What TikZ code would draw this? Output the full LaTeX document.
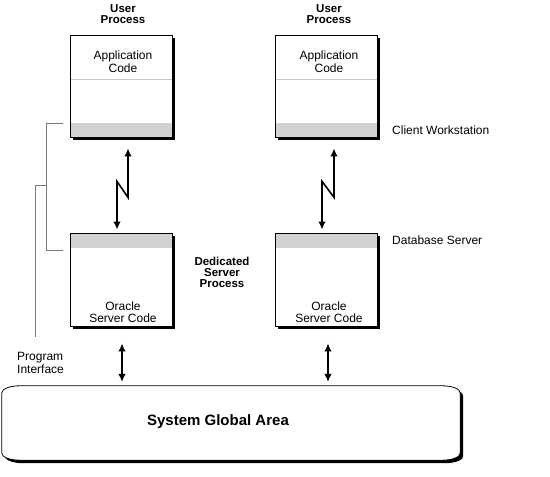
\documentclass[tikz,border=0pt]{standalone}
\usepackage{fontspec}
\setmainfont{Liberation Sans}
\usetikzlibrary{arrows.meta}
\definecolor{BandGray}{HTML}{D2D2D2}
\definecolor{RuleGray}{HTML}{C8C8C8}
\definecolor{BraceGray}{HTML}{7A7A7A}

\begin{document}
\begin{tikzpicture}[x=1pt,y=1pt,
   shade3/.style={preaction={draw=none, fill=black, transform canvas={shift={(3pt,-3pt)}}}},
   procbox/.style={draw, line width=0.8pt, fill=white, minimum width=102pt, shade3},
   clientbox/.style={procbox, minimum height=102pt,
     path picture={\fill[BandGray] (path picture bounding box.south west) rectangle ([yshift=14pt]path picture bounding box.south east);
       \draw[RuleGray, line width=0.6pt] ([yshift=-44pt]path picture bounding box.north west) -- ([yshift=-44pt]path picture bounding box.north east);}},
   serverbox/.style={procbox, minimum height=93pt,
     path picture={\fill[BandGray] (path picture bounding box.north west) rectangle ([yshift=-15pt]path picture bounding box.north east);}},
   link/.style={line width=1.6pt, {Latex[length=8pt,width=7.5pt]}-{Latex[length=8pt,width=7.5pt]}},
   brace/.style={BraceGray, line width=0.7pt},
   txt/.style={font=\fontsize{12}{12.5}\selectfont, align=center, inner sep=0pt},
   bold/.style={txt, font=\fontsize{11.5}{11}\selectfont\bfseries}]
   \useasboundingbox (0,0) rectangle (550,477);

   % process boxes
   \node[clientbox] (app1) at (121,391) {};
   \node[clientbox] (app2) at (326,391) {};
   \node[serverbox] (srv1) at (121,197.5) {};
   \node[serverbox] (srv2) at (326,197.5) {};

   \node[bold] (user1) at ([xshift=2pt,yshift=20pt]app1.north) {User\\Process};
   \node[bold] (user2) at ([xshift=3pt,yshift=20pt]app2.north) {User\\Process};
   \node[txt] (code1) at ([xshift=2pt,yshift=-27pt]app1.north) {Application\\Code};
   \node[txt] (code2) at ([xshift=3pt,yshift=-27pt]app2.north) {Application\\Code};
   \node[txt] (ora1) at ([xshift=2pt,yshift=14pt]srv1.south) {Oracle\\Server Code};
   \node[txt] (ora2) at ([xshift=3pt,yshift=14pt]srv2.south) {Oracle\\Server Code};

   % network links
   \draw[link] ([shift={(7pt,-11pt)}]app1.south) -- ++(0,-49) -- ++(-11,16) -- ([shift={(-4pt,3pt)}]srv1.north);
   \draw[link] ([shift={(8pt,-11pt)}]app2.south) -- ++(0,-49) -- ++(-12,16) -- ([shift={(-4pt,3pt)}]srv2.north);

   % system global area
   \node[minimum width=458pt, minimum height=74pt, inner sep=0pt] (sga) at (231,54) {};
   \draw[line width=0.8pt, fill=white, shade3]
      ([yshift=-7pt]sga.north west) arc[start angle=180, end angle=90, x radius=18pt, y radius=7pt]
      -- ([xshift=-18pt]sga.north east) arc[start angle=90, end angle=0, x radius=18pt, y radius=7pt]
      -- ([yshift=7pt]sga.south east) arc[start angle=0, end angle=-90, x radius=18pt, y radius=7pt]
      -- ([xshift=18pt]sga.south west) arc[start angle=270, end angle=180, x radius=18pt, y radius=7pt]
      -- cycle;
   \node[font=\fontsize{15}{16}\selectfont\bfseries] (sgalabel) at (218,55) {System Global Area};

   \coordinate (sgatop) at (0,95);
   \draw[link] ([shift={(1pt,-17pt)}]srv1.south) -- ([xshift=1pt]srv1.south |- sgatop);
   \draw[link] ([shift={(2pt,-17pt)}]srv2.south) -- ([xshift=2pt]srv2.south |- sgatop);

   % program interface bracket
   \draw[brace] ([shift={(-7pt,14pt)}]app1.south west) -- ++(-16,0) |- ([shift={(-7pt,-18pt)}]srv1.north west);
   \coordinate (bracemid) at (47,292);
   \draw[brace] (bracemid) -- ++(-12,0) -- ++(0,-152);

   % labels
   \node[bold] (dedic) at (222,205) {Dedicated\\Server\\Process};
   \node[txt, anchor=west, align=left] (piface) at (17,114) {Program\\Interface};
   \node[txt, anchor=west] (client) at (392,347) {Client Workstation};
   \node[txt, anchor=west] (dbserver) at (392,237) {Database Server};
\end{tikzpicture}
\end{document}
